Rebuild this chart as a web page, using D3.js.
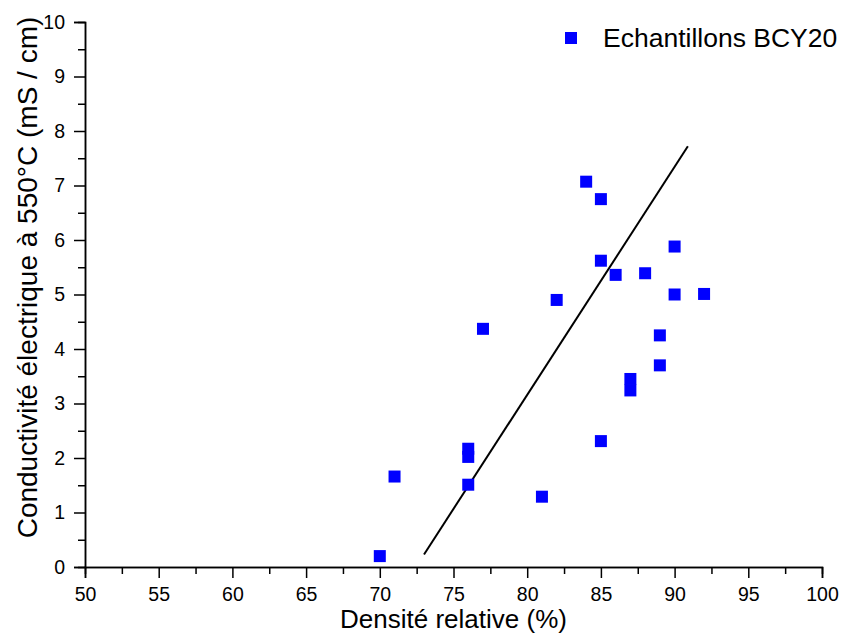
<!DOCTYPE html>
<html>
<head>
<meta charset="utf-8">
<script src="https://cdn.jsdelivr.net/npm/d3@7"></script>
<style>
  body { margin: 0; background: #fff; }
  svg { display: block; }
  text { font-family: "Liberation Sans", Arial, sans-serif; fill: #000; }
</style>
</head>
<body>
<svg id="chart" width="841" height="635"></svg>
<script>
// Data
const densite = [70, 71, 76, 76, 76, 77, 81, 82, 84, 85, 85, 85, 86, 87, 87, 88, 89, 89, 90, 90, 92];
const conductivite = [0.2, 1.66, 2.17, 2.02, 1.51, 4.37, 1.29, 4.9, 7.07, 6.75, 5.62, 2.31, 5.36, 3.45, 3.24, 5.39, 4.25, 3.7, 5.88, 5.0, 5.01];
const fitX = [73, 90.9];
const fitY = [0.23, 7.72];
const xTicks = [50, 55, 60, 65, 70, 75, 80, 85, 90, 95, 100];
const yTicks = [0, 1, 2, 3, 4, 5, 6, 7, 8, 9, 10];
const seriesName = "Echantillons BCY20";
const xTitle = "Densité relative (%)";
const yTitle = "Conductivité électrique à 550°C (mS / cm)";

const svg = d3.select("#chart");
const mLeft = 85, mRight = 822, mTop = 22, mBottom = 567;

const x = d3.scaleLinear().domain([50, 100]).range([mLeft, mRight]);
const y = d3.scaleLinear().domain([0, 10]).range([mBottom, mTop]);

// minor ticks
const xMinor = d3.range(52.5, 100, 5);
const yMinor = d3.range(0.5, 10, 1);

const gx = svg.append("g").attr("transform", `translate(0,${mBottom})`);
gx.call(d3.axisBottom(x).tickValues(xMinor).tickSize(7).tickFormat(""));
const gx2 = svg.append("g").attr("transform", `translate(0,${mBottom})`);
gx2.call(d3.axisBottom(x).tickValues(xTicks).tickSize(11).tickPadding(9).tickFormat(d3.format("d")));
gx2.selectAll("text").attr("font-size", 19.5);

const gy = svg.append("g").attr("transform", `translate(${mLeft},0)`);
gy.call(d3.axisLeft(y).tickValues(yMinor).tickSize(7).tickFormat(""));
const gy2 = svg.append("g").attr("transform", `translate(${mLeft},0)`);
gy2.call(d3.axisLeft(y).tickValues(yTicks).tickSize(11).tickPadding(9).tickFormat(d3.format("d")));
gy2.selectAll("text").attr("font-size", 19.5);
svg.selectAll(".domain").attr("stroke-width", 1.5).attr("stroke", "#000");
svg.selectAll(".tick line").attr("stroke", "#000").attr("stroke-width", 1.5);
svg.selectAll(".tick text").attr("fill", "#000").style("font-family", '"Liberation Sans", Arial, sans-serif');

// fit line
const line = d3.line().x(d => x(d[0])).y(d => y(d[1]));
svg.append("path")
  .datum(fitX.map((v, i) => [v, fitY[i]]))
  .attr("d", line)
  .attr("fill", "none")
  .attr("stroke", "#000")
  .attr("stroke-width", 2);

// points
const s = 12;
svg.append("g").selectAll("rect")
  .data(densite.map((d, i) => [d, conductivite[i]]))
  .join("rect")
  .attr("x", d => x(d[0]) - s / 2)
  .attr("y", d => y(d[1]) - s / 2)
  .attr("width", s).attr("height", s)
  .attr("fill", "#0000ff");

// axis titles
svg.append("text")
  .attr("x", (mLeft + mRight) / 2).attr("y", 628)
  .attr("text-anchor", "middle")
  .attr("font-size", 26)
  .text(xTitle);

svg.append("text")
  .attr("transform", `translate(37,${(mTop + mBottom) / 2 - 17}) rotate(-90)`)
  .attr("text-anchor", "middle")
  .attr("font-size", 28)
  .text(yTitle);

// legend
svg.append("rect")
  .attr("x", 565).attr("y", 32).attr("width", s).attr("height", s)
  .attr("fill", "#0000ff");
svg.append("text")
  .attr("x", 603).attr("y", 47)
  .attr("font-size", 26.5)
  .text(seriesName);
</script>
</body>
</html>
